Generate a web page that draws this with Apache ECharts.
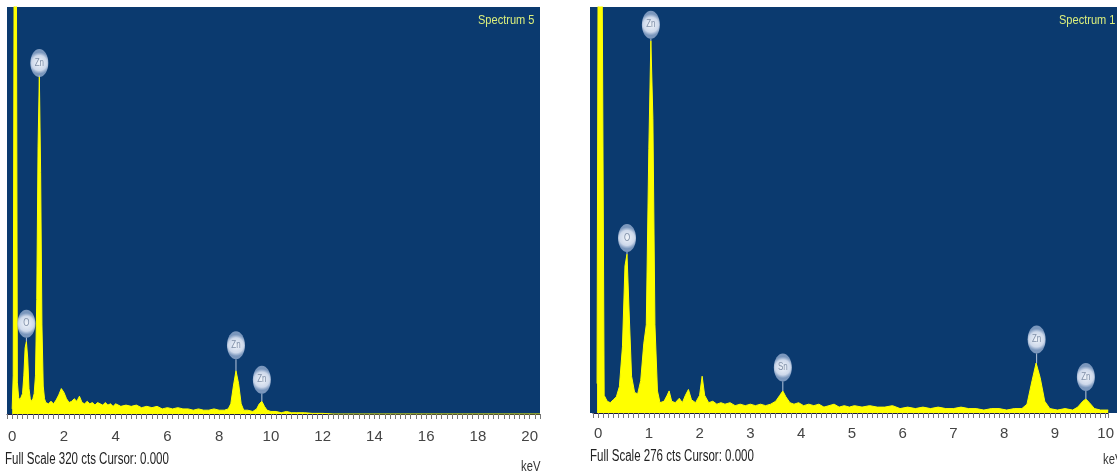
<!DOCTYPE html>
<html><head><meta charset="utf-8">
<script src="https://cdn.jsdelivr.net/npm/echarts@6/dist/echarts.min.js"></script>
<style>html,body{margin:0;padding:0;background:#fff;}#c{width:1117px;height:476px;}</style>
</head><body><div id="c"></div>
<script>
// ---------- DATA ----------
// Left spectrum (Spectrum 5), full scale 320 cts, 0-20 keV
const leftKeV = [0.00,0.04,0.08,0.12,0.16,0.20,0.25,0.30,0.35,0.40,0.45,0.50,0.55,0.60,0.65,0.70,0.75,0.80,0.85,0.90,0.95,1.00,1.05,1.10,1.15,1.20,1.25,1.30,1.40,1.50,1.60,1.70,1.80,1.90,2.00,2.10,2.20,2.30,2.40,2.50,2.60,2.70,2.80,2.90,3.00,3.10,3.20,3.30,3.40,3.50,3.60,3.70,3.80,3.90,4.00,4.20,4.40,4.60,4.80,5.00,5.20,5.40,5.60,5.80,6.00,6.20,6.40,6.60,6.80,7.00,7.20,7.40,7.60,7.80,8.00,8.20,8.35,8.45,8.55,8.65,8.75,8.85,8.95,9.10,9.30,9.45,9.55,9.65,9.75,9.85,10.00,10.20,10.40,10.60,10.80,11.00,11.30,11.60,12.00,12.40,20.40];
const leftCts = [4,30,400,600,380,25,13,11,12,16,30,52,57,44,20,12,10,12,16,30,90,210,266,190,70,22,12,9,8,10,8,11,15,20,17,12,9,10,12,10,14,9,8,10,8,9,7,9,8,7,9,7,8,6,8,6,7,6,7,5,6,5,6,4,5,4,5,4,4,3,4,3,3,4,3,3,4,8,22,34,24,8,3,3,2,4,8,10,6,3,2,2,1,2,1,1,1,0.5,0.5,0,0];
// Right spectrum (Spectrum 1), full scale 276 cts, 0-10 keV
const rightKeV = [-0.02,0.00,0.04,0.08,0.12,0.18,0.24,0.30,0.36,0.42,0.48,0.53,0.57,0.61,0.66,0.72,0.78,0.84,0.90,0.95,1.00,1.04,1.08,1.12,1.17,1.22,1.30,1.36,1.40,1.45,1.52,1.60,1.66,1.72,1.78,1.84,1.92,2.00,2.05,2.10,2.18,2.26,2.34,2.42,2.50,2.60,2.70,2.80,2.90,3.00,3.10,3.20,3.30,3.40,3.50,3.58,3.64,3.70,3.78,3.86,3.95,4.05,4.15,4.25,4.35,4.45,4.55,4.65,4.75,4.85,4.95,5.05,5.20,5.35,5.50,5.65,5.80,5.95,6.10,6.25,6.40,6.55,6.70,6.85,7.00,7.15,7.30,7.45,7.60,7.75,7.90,8.05,8.20,8.35,8.45,8.55,8.63,8.71,8.80,8.90,9.05,9.20,9.35,9.45,9.55,9.61,9.68,9.78,9.90,10.05];
const rightCts = [20,300,600,300,12,8,7,9,11,18,45,100,108,70,25,14,13,22,47,60,180,253,200,60,15,7,8,12,15,8,7,10,7,12,16,9,7,12,25,12,7,8,6,7,6,7,5,6,5,6,5,6,5,6,8,12,15,11,7,6,7,5,6,5,6,4,5,6,4,5,4,5,4,5,4,4,5,3,4,3,4,3,4,3,3,4,3,3,2,3,3,2,3,3,6,22,34,24,8,3,2,3,2,4,8,9.5,7,3,2,2];
// Element labels (bubble position in keV / cts)
const leftMarkNames = ['Zn','O','Zn','Zn'];
const leftMarkKeV   = [1.05,0.55,8.65,9.65];
const leftMarkCts   = [276,71,54,27];
const rightMarkNames = ['Zn','O','Sn','Zn','Zn'];
const rightMarkKeV   = [1.04,0.57,3.64,8.64,9.61];
const rightMarkCts   = [264,119,31,50,24.5];
// Axis tick labels
const leftTickLabels = ['0','2','4','6','8','10','12','14','16','18','20'];
const rightTickLabels = ['0','1','2','3','4','5','6','7','8','9','10'];
const leftFullScale = 320, rightFullScale = 276;

// ---------- CHART ----------
const FONT = "'Liberation Sans',Arial,sans-serif";
function pairs(xs, ys){ return xs.map((x,i)=>[x, ys[i]]); }
function peakAt(xs, ys, k){ let best=0; xs.forEach((x,i)=>{ if(Math.abs(x-k)<=0.06 && ys[i]>best) best=ys[i]; }); return best; }
function marks(names, ks, cs, xs, ys){ return names.map((n,i)=>[ks[i], cs[i], peakAt(xs,ys,ks[i])]); }
function bubbleRender(names){
  return function(params, api){
    const k = api.value(0), c = api.value(1), p = api.value(2);
    const pt = api.coord([k, c]); const pk = api.coord([k, p]);
    const rx = 9, ry = 14;
    return {type:'group', children:[
      {type:'line', shape:{x1:pt[0], y1:pt[1]+ry, x2:pt[0], y2:pk[1]}, style:{stroke:'rgba(215,225,240,0.85)', lineWidth:1}},
      {type:'ellipse', shape:{cx:pt[0], cy:pt[1], rx:rx, ry:ry},
        style:{fill:new echarts.graphic.RadialGradient(0.5,0.5,0.6,[{offset:0,color:'#f0f4fa'},{offset:0.7,color:'#cdd8ea'},{offset:1,color:'rgba(160,182,215,0.75)'}])}},
      {type:'text', x:pt[0], y:pt[1], scaleX:0.8, style:{text:names[params.dataIndex], align:'center', verticalAlign:'middle', font:'10px '+FONT, fill:'#8090a8'}}
    ]};
  };
}
function evenLabel(list, step){
  return function(v){
    const q = v/step; if (v < -1e-6 || Math.abs(q-Math.round(q))>1e-6) return '';
    const s = String(Math.round(v)); return list.indexOf(s)>=0 ? s : '';
  };
}
const chart = echarts.init(document.getElementById('c'), null, {renderer:'canvas'});
const axisCommon = {
  type:'value', splitLine:{show:false},
  axisLine:{show:true, onZero:false, lineStyle:{color:'#1c1c3c', width:1}},
  axisTick:{show:true, length:5, inside:false, lineStyle:{color:'#777', width:1}},
};
chart.setOption({
  animation:false,
  graphic:[
    {type:'rect', z:-10, shape:{x:7, y:7, width:533, height:407}, style:{fill:'#0b3a6f'}},
    {type:'rect', z:-10, shape:{x:590, y:7, width:527, height:406}, style:{fill:'#0b3a6f'}},
    {type:'text', z:10, x:478, y:14, scaleX:0.85, style:{text:'Spectrum 5', font:'13px '+FONT, fill:'#dcef7c'}},
    {type:'text', z:10, x:1059, y:14, scaleX:0.85, style:{text:'Spectrum 1', font:'13px '+FONT, fill:'#dcef7c'}},
    {type:'text', x:5, y:452, scaleX:0.72, style:{text:'Full Scale '+leftFullScale+' cts Cursor: 0.000', font:'16px '+FONT, fill:'#222'}},
    {type:'text', x:590, y:449, scaleX:0.72, style:{text:'Full Scale '+rightFullScale+' cts Cursor: 0.000', font:'16px '+FONT, fill:'#222'}},
    {type:'text', x:521, y:459, scaleX:0.75, style:{text:'keV', font:'15px '+FONT, fill:'#333'}},
    {type:'text', x:1103, y:452, scaleX:0.75, style:{text:'keV', font:'15px '+FONT, fill:'#333'}}
  ],
  grid:[
    {left:7, top:7, width:533, height:407},
    {left:593, top:7, width:524, height:406}
  ],
  xAxis:[
    Object.assign({}, axisCommon, {gridIndex:0, min:-0.2, max:20.4, interval:0.2,
      axisLabel:{formatter:evenLabel(leftTickLabels,2), margin:15, fontFamily:FONT, fontSize:15, color:'#444', showMaxLabel:true, showMinLabel:true}}),
    Object.assign({}, axisCommon, {gridIndex:1, min:-0.1, max:10.05, interval:0.1,
      axisLabel:{formatter:evenLabel(rightTickLabels,1), margin:13, fontFamily:FONT, fontSize:15, color:'#444', showMaxLabel:true, showMinLabel:true}})
  ],
  yAxis:[
    {type:'value', gridIndex:0, min:0, max:leftFullScale, show:false},
    {type:'value', gridIndex:1, min:0, max:rightFullScale, show:false}
  ],
  series:[
    {type:'line', xAxisIndex:0, yAxisIndex:0, data:pairs(leftKeV,leftCts), showSymbol:false, symbol:'none', sampling:null,
      lineStyle:{color:'#ffff00', width:1}, areaStyle:{color:'#ffff00', opacity:1}, z:3},
    {type:'line', xAxisIndex:1, yAxisIndex:1, data:pairs(rightKeV,rightCts), showSymbol:false, symbol:'none', sampling:null,
      lineStyle:{color:'#ffff00', width:1}, areaStyle:{color:'#ffff00', opacity:1}, z:3},
    {type:'custom', xAxisIndex:0, yAxisIndex:0, z:5, renderItem:bubbleRender(leftMarkNames),
      data:marks(leftMarkNames,leftMarkKeV,leftMarkCts,leftKeV,leftCts)},
    {type:'custom', xAxisIndex:1, yAxisIndex:1, z:5, renderItem:bubbleRender(rightMarkNames),
      data:marks(rightMarkNames,rightMarkKeV,rightMarkCts,rightKeV,rightCts)}
  ]
});
</script></body></html>
